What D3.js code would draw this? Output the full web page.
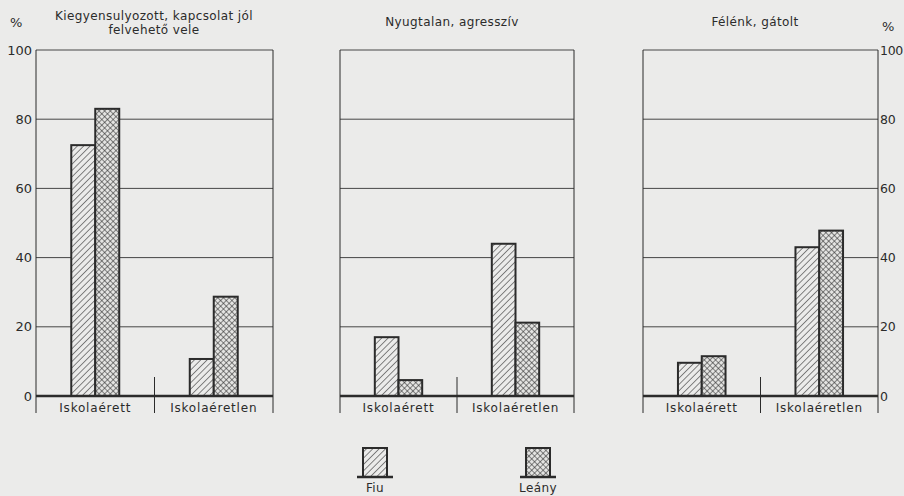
<!DOCTYPE html>
<html>
<head>
<meta charset="utf-8">
<script src="https://cdn.jsdelivr.net/npm/d3@7"></script>
<style>
  body { margin: 0; background: #ebebea; }
  svg { display: block; }
  text { font-family: "DejaVu Sans", sans-serif; fill: #2b2b2b; }
</style>
</head>
<body>
<div id="container"></div>
<script>
// data (percent)
const panelTitles = [
    ["Kiegyensulyozott, kapcsolat jól", "felvehető vele"],
    ["Nyugtalan, agresszív"],
    ["Félénk, gátolt"],
]
const categories = ["Iskolaérett", "Iskolaéretlen"]
const fiuValues = [[72.5, 10.7], [17, 44], [9.6, 43]]
const leanyValues = [[83, 28.7], [4.6, 21.2], [11.5, 47.8]]
const yTicks = [0, 20, 40, 60, 80, 100]
const seriesNames = ["Fiu", "Leány"]

const width = 904
const height = 496
const ink = "#2b2b2b"

const panelRanges = [[36, 273], [340, 574], [643, 878]]

const svg = d3.select("#container").append("svg")
    .attr("width", width)
    .attr("height", height)

// hatch patterns
const defs = svg.append("defs")
const diag = defs.append("pattern")
    .attr("id", "fiu")
    .attr("patternUnits", "userSpaceOnUse")
    .attr("width", 4.5).attr("height", 4.5)
    .attr("patternTransform", "rotate(45)")
diag.append("rect").attr("width", 4.5).attr("height", 4.5).attr("fill", "#ebebea")
diag.append("line").attr("x1", 0).attr("y1", 0).attr("x2", 0).attr("y2", 4.5)
    .attr("stroke", ink).attr("stroke-width", 1.1)

const cross = defs.append("pattern")
    .attr("id", "leany")
    .attr("patternUnits", "userSpaceOnUse")
    .attr("width", 4).attr("height", 4)
    .attr("patternTransform", "rotate(45)")
cross.append("rect").attr("width", 4).attr("height", 4).attr("fill", "#e4e4e2")
cross.append("line").attr("x1", 0).attr("y1", 0).attr("x2", 0).attr("y2", 4)
    .attr("stroke", ink).attr("stroke-width", 1.1)
cross.append("line").attr("x1", 0).attr("y1", 0).attr("x2", 4).attr("y2", 0)
    .attr("stroke", ink).attr("stroke-width", 1.1)

const y = d3.scaleLinear().domain([0, 100]).range([396, 50])

panelRanges.forEach((range, p) => {
    const g = svg.append("g")
    const x = d3.scaleBand().domain(categories).range(range)
    const xs = d3.scaleBand().domain(seriesNames)
        .range([0, x.bandwidth()]).paddingOuter(1.47).paddingInner(0)

    // grid lines
    g.selectAll(".grid").data(yTicks.filter((t) => t > 0)).join("line")
        .attr("x1", range[0]).attr("x2", range[1])
        .attr("y1", (d) => y(d)).attr("y2", (d) => y(d))
        .attr("stroke", ink).attr("stroke-width", 1).attr("opacity", 0.85)

    // frame verticals
    g.selectAll(".side").data(range).join("line")
        .attr("x1", (d) => d).attr("x2", (d) => d)
        .attr("y1", y(100)).attr("y2", 413)
        .attr("stroke", ink).attr("stroke-width", 1)
    // group divider
    g.append("line")
        .attr("x1", x(categories[1])).attr("x2", x(categories[1]))
        .attr("y1", 377).attr("y2", 413)
        .attr("stroke", ink).attr("stroke-width", 1)

    // bars
    categories.forEach((cat, i) => {
        const vals = [fiuValues[p][i], leanyValues[p][i]]
        g.selectAll(".bar" + i).data(vals).join("rect")
            .attr("x", (d, k) => x(cat) + xs(seriesNames[k]))
            .attr("width", xs.bandwidth())
            .attr("y", (d) => y(d))
            .attr("height", (d) => y(0) - y(d))
            .attr("fill", (d, k) => (k === 0 ? "url(#fiu)" : "url(#leany)"))
            .attr("stroke", ink).attr("stroke-width", 2)
    })

    // baseline
    g.append("line")
        .attr("x1", range[0]).attr("x2", range[1])
        .attr("y1", y(0)).attr("y2", y(0))
        .attr("stroke", ink).attr("stroke-width", 2.5)

    // category labels
    g.selectAll(".cat").data(categories).join("text")
        .attr("x", (d) => x(d) + x.bandwidth() / 2)
        .attr("y", 412)
        .attr("text-anchor", "middle")
        .attr("font-size", 12)
        .attr("letter-spacing", 0.8)
        .text((d) => d)

    // title
    const lines = panelTitles[p]
    const t0 = lines.length > 1 ? 20 : 26
    g.selectAll(".title").data(lines).join("text")
        .attr("x", p === 0 ? 154 : p === 1 ? 452 : 755)
        .attr("y", (d, k) => t0 + k * 14)
        .attr("text-anchor", "middle")
        .attr("font-size", 12)
        .attr("letter-spacing", 0.4)
        .text((d) => d)
})

// left axis
const leftAxis = svg.append("g").attr("transform", "translate(36,0)")
    .call(d3.axisLeft(y).tickValues(yTicks).tickSize(0).tickPadding(4))
leftAxis.select(".domain").remove()
leftAxis.selectAll("text").attr("font-size", 13).attr("fill", ink)
    .style("font-family", "DejaVu Sans, sans-serif")

// right axis
const rightAxis = svg.append("g").attr("transform", "translate(878,0)")
    .call(d3.axisRight(y).tickValues(yTicks).tickSize(0).tickPadding(2))
rightAxis.select(".domain").remove()
rightAxis.selectAll("text").attr("font-size", 12.5).attr("fill", ink)
    .attr("letter-spacing", -0.3)
    .style("font-family", "DejaVu Sans, sans-serif")

svg.append("text").attr("x", 10).attr("y", 27).attr("font-size", 13).text("%")
svg.append("text").attr("x", 882).attr("y", 31).attr("font-size", 13).text("%")

// legend
const legend = svg.append("g")
const legendX = d3.scaleOrdinal().domain(seriesNames).range([375, 538])
seriesNames.forEach((name, k) => {
    const cx = legendX(name)
    legend.append("rect")
        .attr("x", cx - 12).attr("y", 448)
        .attr("width", 24).attr("height", 29)
        .attr("fill", k === 0 ? "url(#fiu)" : "url(#leany)")
        .attr("stroke", ink).attr("stroke-width", 2)
    legend.append("line")
        .attr("x1", cx - 18).attr("x2", cx + 18)
        .attr("y1", 477).attr("y2", 477)
        .attr("stroke", ink).attr("stroke-width", 2.5)
    legend.append("text")
        .attr("x", cx).attr("y", 492)
        .attr("text-anchor", "middle")
        .attr("font-size", 12)
        .attr("letter-spacing", 0.4)
        .text(name)
})
</script>
</body>
</html>
